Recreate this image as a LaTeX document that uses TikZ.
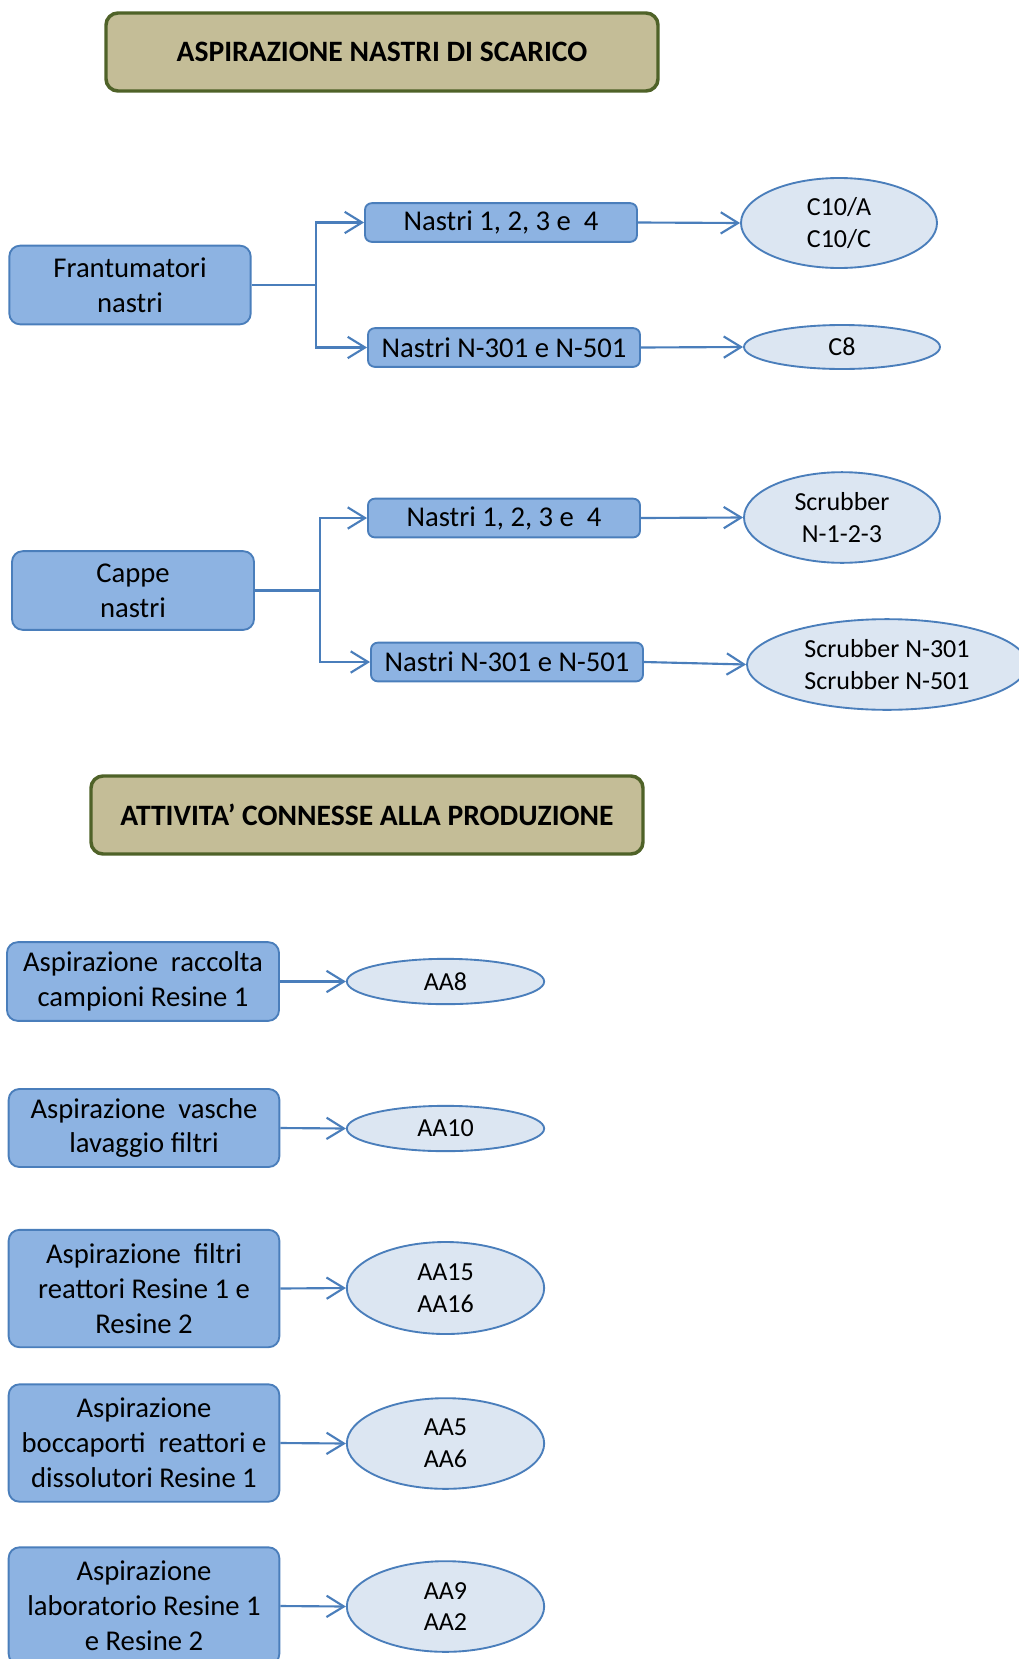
\documentclass[tikz,border=0pt]{standalone}
\usepackage{fontspec}
\setmainfont{Carlito}
\usetikzlibrary{arrows.meta,shapes.geometric}

\definecolor{boxfill}{HTML}{8DB3E2}
\definecolor{boxline}{HTML}{4A7EBB}
\definecolor{ellfill}{HTML}{DCE6F2}
\definecolor{titlefill}{HTML}{C4BD97}
\definecolor{titleline}{HTML}{4F6228}

\tikzset{
  titlebox/.style={draw=titleline, line width=2.6pt, fill=titlefill, rounded corners=9pt,
    minimum width=414pt, minimum height=58.5pt, inner sep=0pt,
    font=\fontsize{22.2}{26.2}\selectfont\bfseries},
  srcbox/.style={draw=boxline, line width=1.4pt, fill=boxfill, rounded corners=8pt,
    inner sep=0pt, align=center, font=\fontsize{21.5}{26.2}\selectfont},
  bandbox/.style={srcbox, rounded corners=5pt, minimum width=204pt, minimum height=29pt},
  outell/.style={ellipse, draw=boxline, line width=1.4pt, fill=ellfill, inner sep=0pt,
    align=center, font=\fontsize{19.5}{23.8}\selectfont},
  flow/.style={draw=boxline, line width=1.6pt,
    -{Straight Barb[length=13pt,width=16pt]}},
  feed/.style={draw=boxline, line width=1.6pt}
}

\begin{document}
\begin{tikzpicture}[x=0.75pt,y=-0.75pt]
\useasboundingbox (0,0) rectangle (1019,1659);

% ---- section 1: discharge belts ----
\node[titlebox] (t1) at (382,52) {ASPIRAZIONE NASTRI DI SCARICO};

\node[srcbox, minimum width=181pt, minimum height=59pt] (fr) at (130,285) {Frantumatori\\nastri};
\node[bandbox] (n1a) at (501,222.5) {\raisebox{-1pt}{Nastri 1, 2, 3 e\ \ 4}};
\node[bandbox] (n2a) at (504,347.5) {\raisebox{-1pt}{Nastri N-301 e N-501}};
\node[outell, minimum width=147pt, minimum height=67.5pt] (e1) at (839,223) {C10/A\\C10/C};
\node[outell, minimum width=147pt, minimum height=33pt] (e2) at (842,347) {C8};
\coordinate (j1) at (316,285);

\draw[feed] (fr.east) -- (j1);
\draw[flow] (j1) |- (n1a.west);
\draw[flow] (j1) |- (n2a.west);
\draw[flow] (n1a.east) -- (e1.west);
\draw[flow] (n2a.east) -- (e2.west);

\node[srcbox, minimum width=181.5pt, minimum height=59pt] (cap) at (133,590.5) {Cappe\\nastri};
\node[bandbox] (n1b) at (504,518) {\raisebox{-1pt}{Nastri 1, 2, 3 e\ \ 4}};
\node[bandbox] (n2b) at (507,662) {\raisebox{-1pt}{Nastri N-301 e N-501}};
\node[outell, minimum width=147pt, minimum height=68pt] (e3) at (842,517.5) {Scrubber\\N-1-2-3};
\node[outell, minimum width=210pt, minimum height=68pt] (e4) at (887,664.5) {Scrubber N-301\\Scrubber N-501};
\coordinate (j2) at (319.6,590.5);

\draw[feed] (cap.east) -- (j2);
\draw[flow] (j2) |- (n1b.west);
\draw[flow] (j2) |- (n2b.west);
\draw[flow] (n1b.east) -- (e3.west);
\draw[flow] (n2b.east) -- (e4.west);

% ---- section 2: production-related activities ----
\node[titlebox] (t2) at (367,815) {ATTIVITA’ CONNESSE ALLA PRODUZIONE};

\node[srcbox, minimum width=204pt, minimum height=59pt] (bA) at (143,981.5) {Aspirazione\ \ raccolta\\campioni Resine 1};
\node[outell, minimum width=148pt, minimum height=34pt] (eA) at (445.5,981.5) {AA8};

\node[srcbox, minimum width=203pt, minimum height=58.5pt] (bB) at (144,1128) {Aspirazione\ \ vasche\\lavaggio filtri};
\node[outell, minimum width=148pt, minimum height=34pt] (eB) at (445.5,1128.5) {AA10};

\node[srcbox, minimum width=203pt, minimum height=88pt] (bC) at (144,1288.5) {Aspirazione\ \ filtri\\reattori Resine 1 e\\Resine 2};
\node[outell, minimum width=148pt, minimum height=69pt] (eC) at (445.5,1288) {AA15\\AA16};

\node[srcbox, minimum width=203pt, minimum height=88pt] (bD) at (144,1443) {Aspirazione\\boccaporti\ \ reattori e\\dissolutori Resine 1};
\node[outell, minimum width=148pt, minimum height=68pt] (eD) at (445.5,1443.5) {AA5\\AA6};

\node[srcbox, minimum width=203pt, minimum height=88pt] (bE) at (144,1606) {Aspirazione\\laboratorio Resine 1\\e Resine 2};
\node[outell, minimum width=148pt, minimum height=68pt] (eE) at (445.5,1606.5) {AA9\\AA2};

\draw[flow] (bA.east) -- (eA.west);
\draw[flow] (bB.east) -- (eB.west);
\draw[flow] (bC.east) -- (eC.west);
\draw[flow] (bD.east) -- (eD.west);
\draw[flow] (bE.east) -- (eE.west);
\end{tikzpicture}
\end{document}
